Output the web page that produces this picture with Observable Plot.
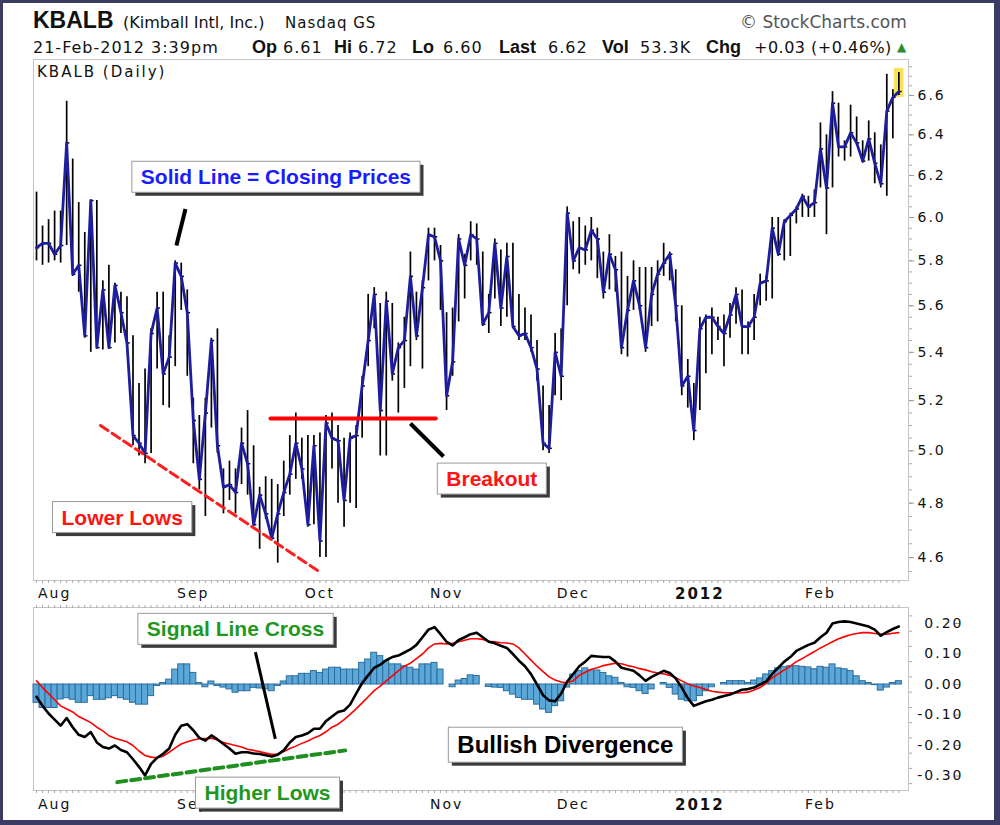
<!DOCTYPE html>
<html><head><meta charset="utf-8">
<script src="https://cdn.jsdelivr.net/npm/d3@7"></script>
<script src="https://cdn.jsdelivr.net/npm/@observablehq/plot@0.6"></script>
<style>
html,body{margin:0;padding:0;background:#fff;}
#wrap{position:relative;width:1000px;height:825px;overflow:hidden;background:#fff;}
#border{position:absolute;left:0;top:0;width:1000px;height:825px;box-sizing:border-box;border-style:solid;border-color:#3b3b63;border-width:3px 6px 5px 3px;pointer-events:none;}
.h{position:absolute;white-space:nowrap;font-family:"DejaVu Sans",sans-serif;font-size:16px;line-height:16px;color:#111;}
.b{font-family:"Liberation Sans",Arial,sans-serif;font-weight:bold;font-size:18px;line-height:18px;}
.plot{position:absolute;left:0;}
g[aria-label="x-axis tick label"] text{letter-spacing:2px;}
g[aria-label="y-axis tick label"] text{letter-spacing:2px;}
</style></head>
<body>
<div id="wrap">
  <div class="h b" style="left:33px;top:8.5px;font-size:23px;line-height:23px;">KBALB</div>
  <div class="h" style="left:123px;top:14.5px;">(Kimball Intl, Inc.)</div>
  <div class="h" style="left:285px;top:14.5px;font-size:15px;letter-spacing:1px;">Nasdaq GS</div>
  <div class="h" style="left:740px;top:13.5px;font-size:17px;line-height:17px;color:#555;">© StockCharts.com</div>
  <div class="h" style="left:33px;top:39.5px;letter-spacing:1px;">21-Feb-2012 3:39pm</div>
  <div class="h b" style="left:252px;top:38px;">Op</div>
  <div class="h" style="left:283px;top:39.5px;letter-spacing:1px;">6.61</div>
  <div class="h b" style="left:334px;top:38px;">Hi</div>
  <div class="h" style="left:358px;top:39.5px;letter-spacing:1px;">6.72</div>
  <div class="h b" style="left:412px;top:38px;">Lo</div>
  <div class="h" style="left:443px;top:39.5px;letter-spacing:1px;">6.60</div>
  <div class="h b" style="left:499px;top:38px;">Last</div>
  <div class="h" style="left:548px;top:39.5px;letter-spacing:1px;">6.62</div>
  <div class="h b" style="left:602px;top:38px;">Vol</div>
  <div class="h" style="left:640px;top:39.5px;letter-spacing:1px;">53.3K</div>
  <div class="h b" style="left:706px;top:38px;">Chg</div>
  <div class="h" style="left:754px;top:39.5px;letter-spacing:0.5px;">+0.03 (+0.46%)</div>
  <div class="h" style="left:897px;top:41px;font-size:12px;line-height:12px;color:#2e8b2e;">▲</div>
  <div id="price" class="plot" style="top:0px;"></div>
  <div id="macd" class="plot" style="top:600px;"></div>
  <div class="h" style="left:37px;top:64.5px;font-size:15px;line-height:15px;letter-spacing:2px;">KBALB (Daily)</div>
  <div id="border"></div>
</div>
<script>
// ---- daily price data (bar index 0 = 27-Jul-2011, last = 21-Feb-2012) ----
const closes = [5.86,5.88,5.88,5.83,5.87,6.36,5.74,5.78,5.47,6.08,
5.42,5.67,5.42,5.69,5.57,5.44,5.06,5.03,4.99,5.48,
5.59,5.31,5.38,5.79,5.73,5.57,5.12,4.89,5.15,5.45,
5.02,4.86,4.87,4.84,5.03,4.95,4.72,4.83,4.76,4.67,
4.76,4.84,4.91,5.03,4.93,4.72,5.02,4.66,5.11,5.05,
5.04,4.81,5.05,5.06,5.26,5.45,5.65,5.16,5.62,5.31,
5.42,5.45,5.73,5.47,5.68,5.92,5.91,5.80,5.22,5.36,
5.90,5.78,5.92,5.90,5.52,5.57,5.88,5.59,5.82,5.51,
5.47,5.48,5.42,5.33,5.03,5.01,5.40,5.30,6.02,5.80,
5.86,5.85,5.94,5.90,5.66,5.83,5.76,5.42,5.58,5.71,
5.60,5.42,5.65,5.74,5.79,5.83,5.60,5.26,5.30,5.08,
5.50,5.55,5.55,5.51,5.48,5.56,5.65,5.51,5.51,5.55,
5.70,5.71,5.95,5.83,5.98,6.01,6.04,6.10,6.05,6.07,
6.33,6.14,6.56,6.34,6.34,6.41,6.36,6.27,6.38,6.26,
6.16,6.52,6.59,6.62];
const highs = [6.12,5.96,5.99,6.03,6.03,6.57,6.28,6.07,5.93,6.08,
6.08,5.71,5.78,5.70,5.66,5.64,5.47,5.27,5.33,5.50,
5.66,5.66,5.47,5.80,5.79,5.67,5.21,5.14,5.21,5.46,
5.50,4.93,4.96,4.93,5.09,5.16,5.02,4.86,4.90,4.89,
4.87,4.96,5.06,5.15,5.05,5.06,5.06,5.07,5.14,5.15,
5.10,5.05,5.07,5.10,5.30,5.65,5.68,5.61,5.66,5.61,
5.44,5.55,5.84,5.66,5.71,5.95,5.95,5.87,5.57,5.59,
5.92,5.83,5.98,5.97,5.84,5.65,5.90,5.85,5.88,5.88,
5.65,5.59,5.56,5.45,5.26,5.18,5.48,5.50,6.05,5.98,
6.00,5.96,6.00,5.95,5.84,5.92,5.82,5.84,5.73,5.80,
5.77,5.77,5.77,5.80,5.88,5.84,5.76,5.60,5.37,5.27,
5.55,5.56,5.59,5.55,5.56,5.61,5.68,5.67,5.53,5.65,
5.74,5.73,6.00,6.00,5.99,6.02,6.05,6.11,6.10,6.13,
6.46,6.40,6.62,6.56,6.37,6.55,6.49,6.37,6.47,6.41,
6.35,6.71,6.63,6.72];
const lows = [5.80,5.78,5.79,5.80,5.79,5.87,5.73,5.66,5.46,5.40,
5.42,5.41,5.42,5.44,5.48,5.42,5.02,4.98,4.95,4.99,
5.33,5.18,5.17,5.34,5.58,5.30,4.95,4.85,4.75,5.09,
4.99,4.76,4.81,4.76,4.87,4.83,4.72,4.63,4.74,4.66,
4.58,4.75,4.83,4.89,4.89,4.71,4.72,4.60,4.60,4.93,
4.80,4.71,4.80,4.78,5.05,5.34,5.50,4.98,4.98,5.28,
5.15,5.25,5.34,5.45,5.33,5.71,5.80,5.58,5.16,5.30,
5.53,5.63,5.80,5.78,5.51,5.48,5.63,5.51,5.55,5.50,
5.45,5.45,5.40,5.28,5.00,4.99,5.22,5.20,5.60,5.76,
5.74,5.78,5.80,5.72,5.63,5.67,5.66,5.39,5.38,5.58,
5.58,5.40,5.51,5.53,5.73,5.71,5.53,5.22,5.17,5.04,
5.16,5.31,5.39,5.45,5.34,5.46,5.52,5.39,5.39,5.45,
5.60,5.62,5.63,5.82,5.80,5.82,5.97,6.00,6.00,6.00,
6.14,5.92,6.14,6.29,6.27,6.29,6.35,6.26,6.27,6.16,
6.14,6.10,6.38,6.60];
// ---- MACD (12,26,9) ----
const macdLine = [-0.04,-0.07,-0.095,-0.115,-0.135,-0.11,-0.14,-0.165,-0.172,-0.156,
-0.19,-0.205,-0.21,-0.20,-0.215,-0.222,-0.245,-0.27,-0.298,-0.26,
-0.24,-0.227,-0.21,-0.165,-0.135,-0.13,-0.15,-0.175,-0.184,-0.167,
-0.18,-0.195,-0.21,-0.227,-0.222,-0.222,-0.226,-0.228,-0.232,-0.236,
-0.23,-0.216,-0.19,-0.172,-0.167,-0.16,-0.145,-0.145,-0.12,-0.105,
-0.09,-0.085,-0.066,-0.03,0.005,0.03,0.055,0.065,0.08,0.09,
0.095,0.105,0.115,0.13,0.155,0.18,0.188,0.165,0.14,0.128,
0.146,0.155,0.165,0.17,0.155,0.14,0.135,0.127,0.12,0.10,
0.078,0.06,0.034,0.0,-0.035,-0.052,-0.055,-0.03,0.01,0.034,
0.06,0.075,0.094,0.092,0.09,0.09,0.075,0.055,0.05,0.045,
0.03,0.012,0.025,0.035,0.045,0.038,0.02,-0.01,-0.045,-0.07,
-0.062,-0.055,-0.05,-0.043,-0.038,-0.033,-0.025,-0.017,-0.015,-0.01,
0.0,0.01,0.035,0.055,0.075,0.09,0.11,0.12,0.13,0.137,
0.155,0.17,0.2,0.205,0.207,0.205,0.2,0.195,0.19,0.18,
0.16,0.172,0.182,0.19];
const signalLine = [0.012,-0.01,-0.03,-0.05,-0.07,-0.08,-0.09,-0.105,-0.115,-0.125,
-0.14,-0.152,-0.168,-0.176,-0.182,-0.188,-0.2,-0.218,-0.233,-0.238,
-0.24,-0.235,-0.222,-0.208,-0.195,-0.188,-0.182,-0.178,-0.177,-0.176,
-0.182,-0.19,-0.195,-0.2,-0.205,-0.212,-0.216,-0.22,-0.225,-0.229,
-0.228,-0.22,-0.21,-0.202,-0.193,-0.185,-0.175,-0.167,-0.155,-0.14,
-0.13,-0.115,-0.098,-0.08,-0.06,-0.04,-0.02,-0.005,0.012,0.028,
0.045,0.06,0.07,0.085,0.1,0.12,0.133,0.135,0.133,0.135,
0.14,0.145,0.15,0.15,0.148,0.142,0.14,0.137,0.136,0.133,
0.12,0.1,0.08,0.06,0.042,0.025,0.015,0.008,0.006,0.012,
0.03,0.04,0.05,0.055,0.062,0.066,0.07,0.068,0.062,0.058,
0.052,0.048,0.042,0.038,0.035,0.03,0.022,0.012,0.002,-0.005,
-0.01,-0.016,-0.022,-0.025,-0.027,-0.027,-0.028,-0.027,-0.025,-0.018,
-0.01,0.005,0.022,0.035,0.048,0.06,0.075,0.085,0.097,0.108,
0.12,0.13,0.14,0.15,0.157,0.163,0.167,0.17,0.17,0.167,
0.165,0.165,0.168,0.17];
const histogram = [-0.06,-0.077,-0.077,-0.077,-0.049,-0.045,-0.05,-0.06,-0.06,-0.038,
-0.05,-0.05,-0.045,-0.038,-0.045,-0.05,-0.06,-0.066,-0.066,-0.038,
-0.005,0.005,0.016,0.049,0.066,0.066,0.038,0.005,-0.009,0.01,
-0.005,-0.01,-0.016,-0.027,-0.022,-0.022,-0.011,-0.013,-0.016,-0.022,
-0.005,0.01,0.027,0.027,0.035,0.035,0.044,0.038,0.049,0.055,
0.055,0.049,0.049,0.049,0.071,0.082,0.104,0.093,0.077,0.066,
0.066,0.06,0.055,0.049,0.066,0.066,0.071,0.049,0.0,-0.009,
0.013,0.018,0.03,0.028,0.0,-0.008,-0.01,-0.011,-0.022,-0.033,
-0.044,-0.05,-0.05,-0.066,-0.082,-0.093,-0.071,-0.055,-0.01,0.033,
0.044,0.053,0.046,0.046,0.038,0.027,0.022,0.005,-0.009,-0.011,
-0.022,-0.031,-0.016,0.0,0.005,-0.011,-0.033,-0.05,-0.055,-0.055,
-0.038,-0.022,-0.009,0.0,0.005,0.011,0.011,0.011,0.005,0.013,
0.02,0.033,0.044,0.053,0.057,0.06,0.06,0.058,0.056,0.05,
0.058,0.055,0.066,0.053,0.05,0.044,0.027,0.011,0.005,-0.002,
-0.02,-0.01,0.005,0.011];
// ---- axis ticks ----
const monthTicks = [3, 26, 47, 68, 89, 110, 130];
const monthLabels = ["Aug", "Sep", "Oct", "Nov", "Dec", "2012", "Feb"];
const hiddenLowerMonths = ["Oct"]; // covered by the "Higher Lows" note in the lower panel
const priceTicks = [4.6, 4.8, 5.0, 5.2, 5.4, 5.6, 5.8, 6.0, 6.2, 6.4, 6.6];
const macdTicks = [-0.3, -0.2, -0.1, 0.0, 0.1, 0.2];
// ---- annotations (data coordinates: bar index, value) ----
const priceNotes = [
  {i: 39.7, v: 6.19, label: "Solid Line = Closing Prices", color: "#1b1bff"},
  {i: 14.2, v: 4.745, label: "Lower Lows", color: "#ff1414"},
  {i: 75.5, v: 4.89, label: "Breakout", color: "#ff1414"}
];
const pricePointers = [
  {i1: 24.7, v1: 6.04, i2: 23.2, v2: 5.87},
  {i1: 62.0, v1: 5.108, i2: 67.5, v2: 4.978}
];
const lowerLowsTrend = [{i: 10.6, v: 5.10}, {i: 46.6, v: 4.554}];
const breakoutLevel = [{i: 38.8, v: 5.128}, {i: 66.2, v: 5.128}];
const macdNotes = [
  {i: 33.0, v: 0.180, label: "Signal Line Cross", color: "#1f981f", size: 21},
  {i: 38.3, v: -0.357, label: "Higher Lows", color: "#1f981f", size: 21},
  {i: 87.7, v: -0.200, label: "Bullish Divergence", color: "#000000", size: 24}
];
const macdPointers = [{i1: 36.3, v1: 0.106, i2: 39.6, v2: -0.178}];
const higherLowsTrend = [{i: 13.4, v: -0.320}, {i: 51.2, v: -0.216}];

// ---- tables ----
const bars = closes.map((c, i) => ({i, c, h: highs[i], l: lows[i]}));
const ind = closes.map((_, i) => ({i, m: macdLine[i], s: signalLine[i], h: histogram[i]}));
const allIdx = closes.map((_, i) => i);
const labelOf = d => monthLabels[monthTicks.indexOf(d)];

const AX = "DejaVu Sans, sans-serif";
const NOTEFONT = "Liberation Sans, Arial, sans-serif";
const xDomain = [-0.5, 144.6];

function monthAxes(pad, hidden) {
  const shown = monthTicks.filter(d => !hidden.includes(labelOf(d)));
  return [
    Plot.axisX({anchor: "bottom", ticks: shown.filter(d => labelOf(d) !== "2012"), tickSize: 0, tickPadding: pad, tickFormat: labelOf, fontSize: 14, fill: "#111"}),
    Plot.axisX({anchor: "bottom", ticks: shown.filter(d => labelOf(d) === "2012"), tickSize: 0, tickPadding: pad, tickFormat: labelOf, fontSize: 15, fontWeight: "bold", fill: "#111"})
  ];
}

const pricePlot = Plot.plot({
  width: 1000, height: 612,
  marginLeft: 33, marginRight: 92, marginTop: 59, marginBottom: 32,
  style: {background: "transparent", overflow: "visible", fontFamily: AX, fontSize: "14px", color: "#111"},
  x: {domain: xDomain},
  y: {type: "log", domain: [4.5185, 6.788]},
  marks: [
    Plot.frame({stroke: "#c4c4c4"}),
    Plot.axisX({anchor: "bottom", ticks: allIdx, tickSize: 3, tickFormat: () => "", stroke: "#aaa"}),
    ...monthAxes(8, []),
    Plot.axisY({anchor: "right", ticks: d3.range(4.55, 6.78, 0.05), tickSize: 3, tickFormat: () => "", stroke: "#aaa"}),
    Plot.axisY({anchor: "right", ticks: priceTicks, tickSize: 5, tickPadding: 4, tickFormat: d => d.toFixed(1), fontSize: 14, stroke: "#999", fill: "#111"}),
    Plot.rect(bars.slice(-1), {x1: d => d.i - 0.75, x2: d => d.i + 0.85, y1: "l", y2: "h", fill: "#f6e35a", insetTop: -4, insetBottom: -2}),
    Plot.ruleX(bars, {x: "i", y1: "l", y2: "h", stroke: "#000", strokeWidth: 1.7}),
    Plot.link(bars, {x1: "i", x2: d => d.i + 0.45, y1: "c", y2: "c", stroke: "#000", strokeWidth: 1.5}),
    Plot.line(bars, {x: "i", y: "c", stroke: "#1d1d9e", strokeWidth: 2.8}),
    Plot.line(lowerLowsTrend, {x: "i", y: "v", stroke: "#ff1e1e", strokeWidth: 3, strokeDasharray: "9,5"}),
    Plot.line(breakoutLevel, {x: "i", y: "v", stroke: "#ff0000", strokeWidth: 4}),
    Plot.link(pricePointers, {x1: "i1", y1: "v1", x2: "i2", y2: "v2", stroke: "#000", strokeWidth: 4}),
    ...priceNotes.map(n => Plot.text([n], {x: "i", y: "v", text: "label", fill: n.color, fontSize: 21, fontWeight: "bold", fontFamily: NOTEFONT}))
  ]
});

const macdPlot = Plot.plot({
  width: 1000, height: 225,
  marginLeft: 33, marginRight: 92, marginTop: 7, marginBottom: 35,
  style: {background: "transparent", overflow: "visible", fontFamily: AX, fontSize: "14px", color: "#111"},
  x: {domain: xDomain},
  y: {domain: [-0.3475, 0.2525]},
  marks: [
    Plot.frame({stroke: "#c4c4c4"}),
    Plot.axisX({anchor: "top", ticks: allIdx, tickSize: 3, tickFormat: () => "", stroke: "#aaa"}),
    Plot.axisX({anchor: "bottom", ticks: allIdx, tickSize: 3, tickFormat: () => "", stroke: "#aaa"}),
    ...monthAxes(9, hiddenLowerMonths),
    Plot.axisY({anchor: "right", ticks: d3.range(-0.325, 0.25, 0.05), tickSize: 3, tickFormat: () => "", stroke: "#aaa"}),
    Plot.axisY({anchor: "right", ticks: macdTicks, tickSize: 5, tickPadding: 4, textAnchor: "end", dx: 46, tickFormat: d => d.toFixed(2), fontSize: 14, stroke: "#999", fill: "#111"}),
    Plot.rect(ind, {x1: d => d.i - 0.5, x2: d => d.i + 0.5, y1: d => 0, y2: "h", fill: "#5aa7d8", stroke: "#2c6e9f", strokeWidth: 1}),
    Plot.line(ind, {x: "i", y: "s", stroke: "#ff0000", strokeWidth: 1.6}),
    Plot.line(ind, {x: "i", y: "m", stroke: "#000", strokeWidth: 2.6}),
    Plot.link(macdPointers, {x1: "i1", y1: "v1", x2: "i2", y2: "v2", stroke: "#000", strokeWidth: 3}),
    Plot.line(higherLowsTrend, {x: "i", y: "v", stroke: "#1f8f1f", strokeWidth: 4, strokeDasharray: "9,5"}),
    ...macdNotes.map(n => Plot.text([n], {x: "i", y: "v", text: "label", fill: n.color, fontSize: n.size, fontWeight: "bold", fontFamily: NOTEFONT}))
  ]
});

document.getElementById("price").appendChild(pricePlot);
document.getElementById("macd").appendChild(macdPlot);

function boxNotes(svg, labels) {
  const NS = "http://www.w3.org/2000/svg";
  const want = new Set(labels);
  Array.from(svg.querySelectorAll("text")).forEach(t => {
    if (!want.has(t.textContent)) return;
    const bb = t.getBBox();
    const tr = t.getAttribute("transform");
    const padX = 9, padY = 4;
    const mk = (off, fill, stroke) => {
      const r = document.createElementNS(NS, "rect");
      r.setAttribute("x", bb.x - padX + off);
      r.setAttribute("y", bb.y - padY + off);
      r.setAttribute("width", bb.width + 2 * padX);
      r.setAttribute("height", bb.height + 2 * padY);
      r.setAttribute("fill", fill);
      r.setAttribute("stroke", stroke || "none");
      r.setAttribute("stroke-width", "1");
      if (tr) r.setAttribute("transform", tr);
      return r;
    };
    t.parentNode.insertBefore(mk(3.5, "#3a3a3a", null), t);
    t.parentNode.insertBefore(mk(0, "#ffffff", "#9a9a9a"), t);
  });
}
boxNotes(pricePlot, priceNotes.map(n => n.label));
boxNotes(macdPlot, macdNotes.map(n => n.label));
</script>
</body></html>
